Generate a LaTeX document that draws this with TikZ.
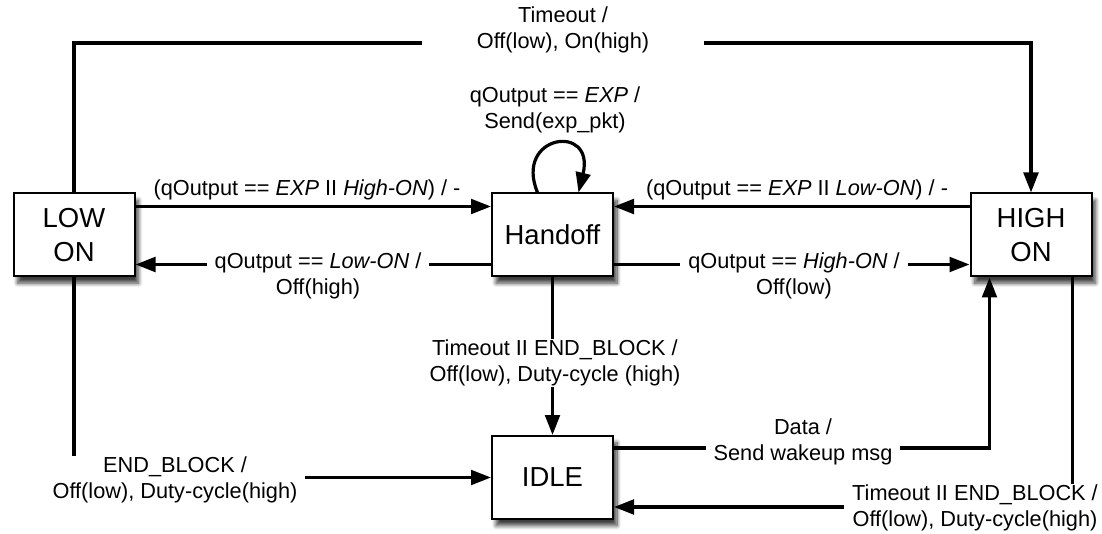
\documentclass[tikz,border=0pt]{standalone}
\usepackage{fontspec}
\setmainfont{Liberation Sans}
\usetikzlibrary{arrows.meta,calc,shadows.blur}

\begin{document}
\begin{tikzpicture}[x=0.75pt,y=-0.75pt]
				\tikzstyle{every node}+=[font=\fontsize{16.3}{19.5}\selectfont]
				\tikzstyle{state}=[draw=black, line width=1.5pt, fill=white, minimum width=90.75pt, minimum height=62.25pt, align=center, font=\fontsize{20.6}{26}\selectfont, blur shadow={shadow xshift=3pt, shadow yshift=-5pt, shadow blur steps=10, shadow blur radius=3pt, shadow opacity=75}]
				\tikzstyle{link}=[draw=black, line width=2.4pt, -{Triangle[length=15pt,width=11pt]}]
				\tikzstyle{lbl}=[fill=white, align=center, inner xsep=6pt, inner ysep=1pt]
				\useasboundingbox (0,0) rectangle (1102,534);
				\node [state] (low) at (74,235) {LOW\\ON};
				\node [state] (hand) at (552.5,235) {Handoff};
				\node [state] (high) at (1031,235) {HIGH\\ON};
				\node [state] (idle) at (552.5,477.5) {IDLE};
				\coordinate (top) at (552,43);
				\draw [link] (low.north) |- (top) -| (high.north);
				\draw [link] ($(hand.north)+(-15,0)$) .. controls +(-24,-58) and +(17,-70) .. ($(hand.north)+(26,0)$);
				\draw [link] ($(low.north east)+(0,14)$) -- ($(hand.north west)+(0,14)$);
				\draw [link] ($(hand.south west)+(0,-13)$) -- ($(low.south east)+(0,-13)$);
				\draw [link] ($(high.north west)+(0,14)$) -- ($(hand.north east)+(0,14)$);
				\draw [link] ($(hand.south east)+(0,-13)$) -- ($(high.south west)+(0,-13)$);
				\draw [link] (hand.south) -- (idle.north);
				\draw [link] ($(idle.north east)+(0,13)$) -| ($(high.south west)+(20,0)$);
				\draw [link] ($(high.south east)+(-20,0)$) |- ($(idle.south east)+(0,-13)$);
				\draw [link] (low.south) |- (idle.west);
				\node [lbl, inner xsep=41pt] (tTop) at (563,30) {Timeout /\\Off(low), On(high)};
				\node [lbl] (tLoop) at (555,110) {qOutput == \textit{EXP} /\\Send(exp\_pkt)};
				\node [lbl] (tLowHand) at (307,190) {(qOutput == \textit{EXP} II \textit{High-ON}) / -};
				\node [lbl] (tHandLow) at (318,276) {qOutput == \textit{Low-ON} /\\Off(high)};
				\node [lbl] (tHighHand) at (797,190) {(qOutput == \textit{EXP} II \textit{Low-ON}) / -};
				\node [lbl] (tHandHigh) at (794,276) {qOutput == \textit{High-ON} /\\Off(low)};
				\node [lbl] (tHandIdle) at (555,363) {Timeout II END\_BLOCK /\\Off(low), Duty-cycle (high)};
				\node [lbl] (tIdleHigh) at (803,442) {Data /\\Send wakeup msg};
				\node [lbl] (tHighIdle) at (975,508) {Timeout II END\_BLOCK /\\Off(low), Duty-cycle(high)};
				\node [lbl] (tLowIdle) at (175,480) {END\_BLOCK /\\Off(low), Duty-cycle(high)};
\end{tikzpicture}
\end{document}
